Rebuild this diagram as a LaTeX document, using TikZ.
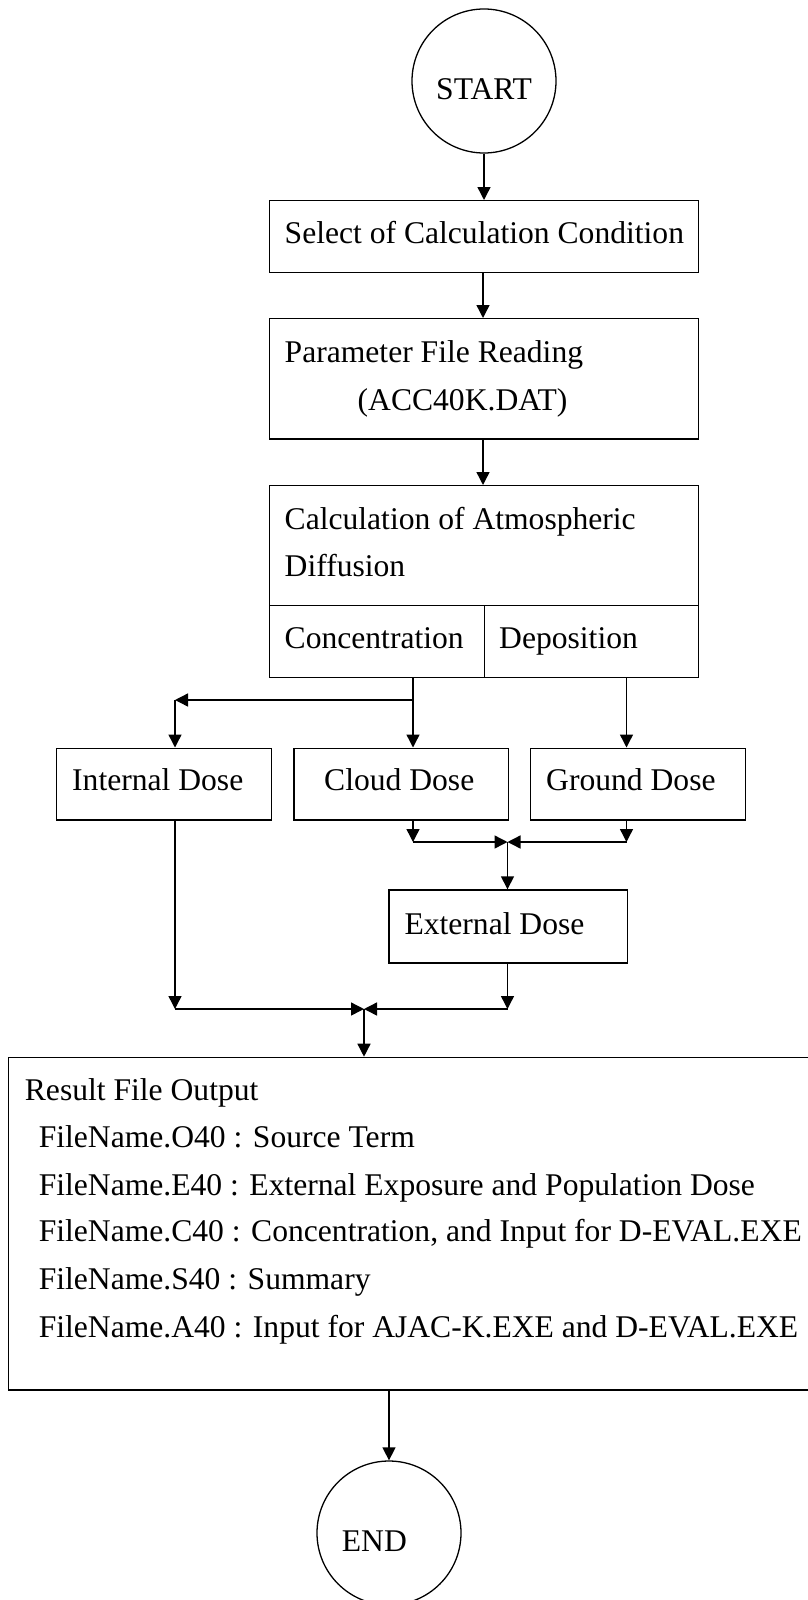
\documentclass[tikz,border=0pt]{standalone}
\usepackage{fontspec}
\setmainfont{Liberation Serif}
\usetikzlibrary{arrows.meta,calc}
\begin{document}
\begin{tikzpicture}[x=1pt,y=-1pt,
  box/.style={draw, line width=1.4pt, rectangle, inner sep=0pt, anchor=north west},
  term/.style={draw, line width=1.3pt, circle, inner sep=0pt, minimum size=144pt},
  txt/.style={inner sep=0pt, anchor=base west, font=\fontsize{31.6}{36}\selectfont},
  arr/.style={line width=1.4pt, -{Triangle[length=13pt,width=13pt]}}]
\useasboundingbox (0,0) rectangle (808,1600);
% terminals
\node[term] (start) at (484,81) {};
\node[term] (end) at (389,1533) {};
% boxes
\node[box, minimum width=428.5pt, minimum height=72pt] (sel) at (269,200) {};
\node[box, minimum width=428.5pt, minimum height=120.3pt] (par) at (269,318) {};
\node[box, minimum width=428.5pt, minimum height=120pt] (calc) at (269,485) {};
\node[box, minimum width=214.5pt, minimum height=71.5pt] (conc) at (269,605) {};
\node[box, minimum width=214pt, minimum height=71.5pt] (dep) at (483.5,605) {};
\node[box, minimum width=215.2pt, minimum height=71.8pt] (internal) at (55.5,747.5) {};
\node[box, minimum width=214.7pt, minimum height=71.8pt] (cloud) at (293.3,747.5) {};
\node[box, minimum width=215pt, minimum height=71.8pt] (ground) at (530,747.5) {};
\node[box, minimum width=238.1pt, minimum height=73pt] (external) at (388.4,889.3) {};
\node[box, minimum width=830pt, minimum height=332.6pt] (result) at (7.5,1056.7) {};
% texts
\node[txt] (tstart) at (436,100) {START};
\node[txt] (tsel) at (284.5,243) {Select of Calculation Condition};
\node[txt] (tpar1) at (284.5,362.7) {Parameter File Reading};
\node[txt] (tpar2) at (357.5,410.7) {(ACC40K.DAT)};
\node[txt] (tcalc1) at (284.5,529) {Calculation of Atmospheric};
\node[txt] (tcalc2) at (284.5,576.7) {Diffusion};
\node[txt] (tconc) at (284.5,648) {Concentration};
\node[txt] (tdep) at (499,648) {Deposition};
\node[txt] (tint) at (72,790.7) {Internal Dose};
\node[txt] (tcloud) at (324,790.7) {Cloud Dose};
\node[txt] (tground) at (546,790.7) {Ground Dose};
\node[txt] (text) at (404.3,934) {External Dose};
\node[txt] (tres) at (24.7,1100) {Result File Output};
\node[txt] (tr1) at (38.6,1147.3) {FileName.O40 : Source Term};
\node[txt] (tr2) at (38.6,1195) {FileName.E40 : External Exposure and Population Dose};
\node[txt] (tr3) at (38.6,1241.7) {FileName.C40 : Concentration, and Input for D-EVAL.EXE};
\node[txt] (tr4) at (38.6,1289.3) {FileName.S40 : Summary};
\node[txt] (tr5) at (38.6,1337) {FileName.A40 : Input for AJAC-K.EXE and D-EVAL.EXE};
\node[txt] (tend) at (341.7,1551) {END};
% helper coordinates
\coordinate (xa) at (483,0);
\coordinate (xc) at (413,0);
\coordinate (xi) at (175,0);
\coordinate (xg) at (626.5,0);
\coordinate (xe) at (507.5,0);
\coordinate (xr) at (364,0);
\coordinate (yb) at (0,700);
\coordinate (yj1) at (0,842);
\coordinate (yj2) at (0,1009);
\coordinate (br) at (xc |- yb);
\coordinate (bl) at (xi |- yb);
\coordinate (c1) at (xc |- yj1);
\coordinate (g1) at (xg |- yj1);
\coordinate (j1) at (xe |- yj1);
\coordinate (i2) at (xi |- yj2);
\coordinate (e2) at (xe |- yj2);
\coordinate (j2) at (xr |- yj2);
% connectors
\draw[arr] (start.south) -- (start.south |- sel.north);
\draw[arr] (sel.south -| xa) -- (par.north -| xa);
\draw[arr] (par.south -| xa) -- (calc.north -| xa);
\draw[arr] (conc.south -| xc) -- (cloud.north -| xc);
\draw[arr] (br) -- (bl);
\draw[arr] (bl) -- (internal.north -| xi);
\draw[arr] (dep.south -| xg) -- (ground.north -| xg);
\draw[arr] (cloud.south -| xc) -- (c1);
\draw[arr] (c1) -- (j1);
\draw[arr] (ground.south -| xg) -- (g1);
\draw[arr] (g1) -- (j1);
\draw[arr] (j1) -- (external.north -| xe);
\draw[arr] (internal.south -| xi) -- (i2);
\draw[arr] (i2) -- (j2);
\draw[arr] (external.south -| xe) -- (e2);
\draw[arr] (e2) -- (j2);
\draw[arr] (j2) -- (result.north -| xr);
\draw[arr] (result.south -| end.north) -- (end.north);
\end{tikzpicture}
\end{document}
